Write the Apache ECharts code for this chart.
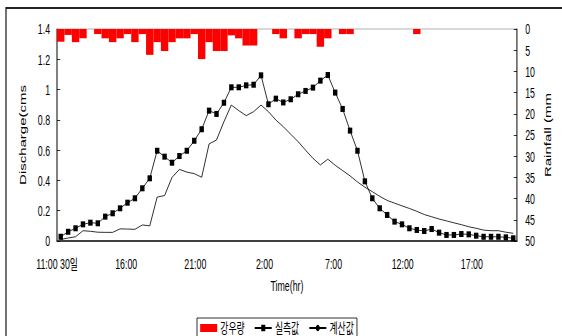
<!DOCTYPE html>
<html><head><meta charset="utf-8">
<script src="https://cdn.jsdelivr.net/npm/echarts@6/dist/echarts.min.js"></script>
<style>
html,body{margin:0;padding:0;overflow:hidden;background:#fff;width:562px;height:336px;}
#c{width:892px;height:336px;transform:scaleX(0.63);transform-origin:0 0;}
</style></head><body><div id="c"></div>
<script>
// sample index (one per measurement step)
const samples = ['1','2','3','4','5','6','7','8','9','10','11','12','13','14','15','16','17','18','19','20',
  '21','22','23','24','25','26','27','28','29','30','31','32','33','34','35','36','37','38','39','40',
  '41','42','43','44','45','46','47','48','49','50','51','52','53','54','55','56','57','58','59','60','61','62'];
// time axis tick labels (every 5 hours from 11:00)
const tickLabels = ['11:00 30일','16:00','21:00','2:00','7:00','12:00','17:00'];
// rainfall (mm)
const rainfall = [3.0,1.4,3.1,2.2,0,1.2,2.2,3.1,2.2,1.2,3.1,1.2,6.1,3.1,5.2,3.1,2.2,2.2,1.2,7.1,
  3.1,5.2,5.2,1.5,2.2,3.9,3.9,0,0,1.2,2.2,0,2.2,1.2,1.2,4.2,2.2,0,1.2,1.2,
  0,0,0,0,0,0,0,0,1.2,0,0,0,0,0,0,0,0,0,0,0,0,0];
// observed discharge (cms)
const measured = [0.028,0.061,0.084,0.110,0.121,0.117,0.161,0.183,0.216,0.253,0.282,0.348,0.414,0.596,0.557,0.517,0.561,0.596,0.662,0.738,
  0.861,0.839,0.913,1.015,1.015,1.028,1.032,1.094,0.903,0.940,0.915,0.936,0.969,0.991,1.013,1.059,1.096,0.980,0.872,0.729,
  0.596,0.394,0.282,0.216,0.172,0.128,0.110,0.084,0.073,0.066,0.079,0.055,0.040,0.040,0.046,0.044,0.035,0.028,0.028,0.028,0.024,0.018];
// computed discharge (cms)
const computed = [0.010,0.020,0.028,0.068,0.064,0.058,0.057,0.057,0.080,0.079,0.077,0.106,0.100,0.290,0.300,0.420,0.473,0.455,0.445,0.421,
  0.641,0.667,0.788,0.898,0.861,0.828,0.854,0.898,0.854,0.799,0.755,0.705,0.656,0.600,0.546,0.502,0.540,0.500,0.465,0.430,
  0.390,0.355,0.326,0.295,0.268,0.250,0.232,0.215,0.196,0.175,0.160,0.145,0.133,0.120,0.108,0.094,0.084,0.072,0.068,0.068,0.058,0.051];

const FONT = "'Liberation Sans', Arial, 'Noto Sans CJK KR', sans-serif";
const chart = echarts.init(document.getElementById('c'), null, {renderer:'svg', width:892, height:336});
chart.setOption({
  backgroundColor:'#fff',
  animation:false,
  textStyle:{fontFamily:FONT, color:'#000'},
  graphic:[{type:'rect', silent:true, shape:{x:9.5, y:8, width:900, height:340}, style:{fill:'none', stroke:'#222', lineWidth:2}}],
  grid:{left:90.5, right:71.4, top:29, bottom:95, show:true, borderColor:'#a0a0a0', borderWidth:1, containLabel:false, outerBoundsMode:'none'},
  legend:{
    left:312.7, top:318, orient:'horizontal', padding:[3,5,6,5], itemGap:15, itemWidth:27, itemHeight:8,
    borderColor:'#000', borderWidth:1, backgroundColor:'#fff',
    textStyle:{fontSize:14, lineHeight:14, color:'#000', fontFamily:FONT},
    data:[{name:'강우량', icon:'rect'}, {name:'실측값'}, {name:'계산값'}]
  },
  xAxis:[
    {type:'category', data:samples, boundaryGap:true, show:false},
    {type:'value', min:0, max:33.26, interval:5, position:'bottom',
      axisLine:{show:true, onZero:false, lineStyle:{color:'#404040', width:2}},
      axisTick:{show:false}, splitLine:{show:false},
      axisLabel:{fontSize:14, color:'#000', margin:16, showMaxLabel:false, showMinLabel:true, hideOverlap:false,
        formatter:function(v){const i=Math.round(v/5); return (Math.abs(v-i*5)<1e-6 && tickLabels[i]!==undefined)?tickLabels[i]:'';}},
      name:'Time(hr)', nameLocation:'middle', nameGap:38, nameTextStyle:{fontSize:14, color:'#000'}}
  ],
  yAxis:[
    {type:'value', min:0, max:1.4, interval:0.2, position:'left',
      axisLine:{show:true, lineStyle:{color:'#000', width:1}},
      axisTick:{show:true, inside:true, length:5, lineStyle:{color:'#000'}},
      splitLine:{show:false},
      axisLabel:{fontSize:14, color:'#000', margin:11},
      name:'Discharge(cms', nameLocation:'middle', nameRotate:90, nameGap:46, nameTextStyle:{fontSize:15, color:'#000'}},
    {type:'value', min:0, max:50, interval:5, inverse:true, position:'right',
      axisLine:{show:true, lineStyle:{color:'#000', width:1}},
      axisTick:{show:true, inside:true, length:5, lineStyle:{color:'#000'}},
      splitLine:{show:false},
      axisLabel:{fontSize:14, color:'#000', margin:13},
      name:'Rainfall (mm', nameLocation:'middle', nameRotate:90, nameGap:42, nameTextStyle:{fontSize:15, color:'#000'}}
  ],
  series:[
    {name:'강우량', type:'bar', xAxisIndex:0, yAxisIndex:1, data:rainfall, barWidth:'100%', barCategoryGap:'0%',
      itemStyle:{color:'#ff0000', borderWidth:0}},
    {name:'실측값', type:'line', xAxisIndex:0, yAxisIndex:0, data:measured, symbol:'rect', symbolSize:[7,6],
      lineStyle:{color:'#000', width:1}, itemStyle:{color:'#000'}, z:3},
    {name:'계산값', type:'line', xAxisIndex:0, yAxisIndex:0, data:computed, symbol:'none',
      lineStyle:{color:'#000', width:1}, itemStyle:{color:'#000'}, z:3}
  ]
});
</script></body></html>
